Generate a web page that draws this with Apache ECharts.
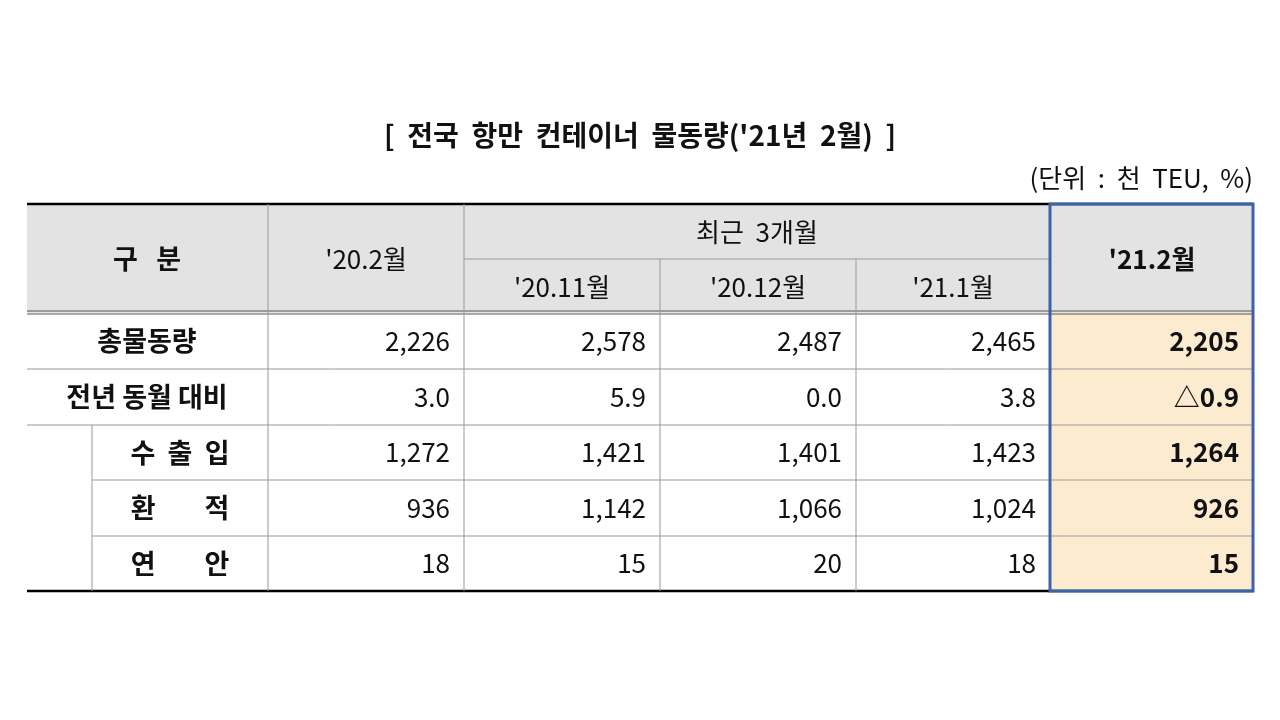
<!DOCTYPE html>
<html><head><meta charset="utf-8">
<script src="https://cdn.jsdelivr.net/npm/echarts@6/dist/echarts.min.js"></script>
<style>html,body{margin:0;background:#fff}#c{width:1280px;height:720px}</style></head>
<body><div id="c"></div>
<script>
const title = "[  전국  항만  컨테이너  물동량('21년  2월)  ]";
const unit = "(단위  :  천  TEU,  %)";
const periods = ["'20.2월", "'20.11월", "'20.12월", "'21.1월", "'21.2월"];
const recentLabel = "최근  3개월";
const rowLabels = ["총물동량", "전년 동월 대비", "수  출  입", "환        적", "연        안"];
const v2002 = ["2,226", "3.0", "1,272", "936", "18"];
const v2011 = ["2,578", "5.9", "1,421", "1,142", "15"];
const v2012 = ["2,487", "0.0", "1,401", "1,066", "20"];
const v2101 = ["2,465", "3.8", "1,423", "1,024", "18"];
const v2102 = ["2,205", "△0.9", "1,264", "926", "15"];

const F = '"Noto Sans CJK KR", "Noto Sans", sans-serif';
const xs = [27, 268, 464, 660, 856, 1050, 1253];
const ys = [204, 313, 369, 425, 480, 536, 591];
const subX = 92, hMid = 259;
const els = [];
const line = (x1,y1,x2,y2,c,w)=>els.push({type:'line',shape:{x1,y1,x2,y2},style:{stroke:c,lineWidth:w},z:5});
const rect = (x,y,w,h,fill)=>els.push({type:'rect',shape:{x,y,width:w,height:h},style:{fill},z:1});
const text = (s,x,y,align,bold,size)=>els.push({type:'text',x,y,style:{text:s,font:(bold?'bold ':'')+size+'px '+F,fill:'#111',align,verticalAlign:'middle'},z:10});

rect(xs[0], ys[0], xs[6]-xs[0], ys[1]-ys[0], '#e3e3e3');
rect(xs[5], ys[1], xs[6]-xs[5], ys[6]-ys[1], '#fdebd0');
text(title, 640, 135, 'center', true, 28);
text(unit, 1253, 178, 'right', false, 26);
text("구   분", 147, 259, 'center', true, 27);
text(periods[0], 366, 259, 'center', false, 26);
text(recentLabel, 757, 232, 'center', false, 26);
[1,2,3].forEach(i=>text(periods[i], (xs[i+1]+xs[i+2])/2, 287, 'center', false, 26));
text(periods[4], 1152, 259, 'center', true, 26);
const cols = [v2002, v2011, v2012, v2101, v2102];
rowLabels.forEach((lab, r)=>{
  const cy = (ys[r+1]+ys[r+2])/2;
  if (r < 2) text(lab, 147, cy, 'center', true, 27);
  else text(lab, (subX+xs[1])/2, cy, 'center', true, 27);
  cols.forEach((col, c)=>text(col[r], xs[c+2]-14, cy, 'right', c===4, 26));
});
const g = '#999';
line(xs[0], ys[0], xs[6], ys[0], '#000', 2.5);
line(xs[2], hMid, xs[5], hMid, g, 1);
line(xs[0], ys[1]-2, xs[6], ys[1]-2, '#555', 1);
line(xs[0], ys[1]+1, xs[6], ys[1]+1, '#555', 1);
[2,3].forEach(i=>line(xs[0], ys[i], xs[6], ys[i], g, 1));
[4,5].forEach(i=>line(subX, ys[i], xs[6], ys[i], g, 1));
line(xs[0], ys[6], xs[6], ys[6], '#000', 2.5);
[1,2,5].forEach(i=>line(xs[i], ys[0], xs[i], ys[6], g, 1));
[3,4].forEach(i=>line(xs[i], hMid, xs[i], ys[6], g, 1));
line(subX, ys[3], subX, ys[6], g, 1);
els.push({type:'rect',shape:{x:xs[5],y:ys[0],width:xs[6]-xs[5],height:ys[6]-ys[0]},style:{fill:null,stroke:'#3b64a6',lineWidth:3},z:20});

const chart = echarts.init(document.getElementById('c'));
chart.setOption({backgroundColor:'#fff', graphic:{elements:els}});
</script></body></html>
